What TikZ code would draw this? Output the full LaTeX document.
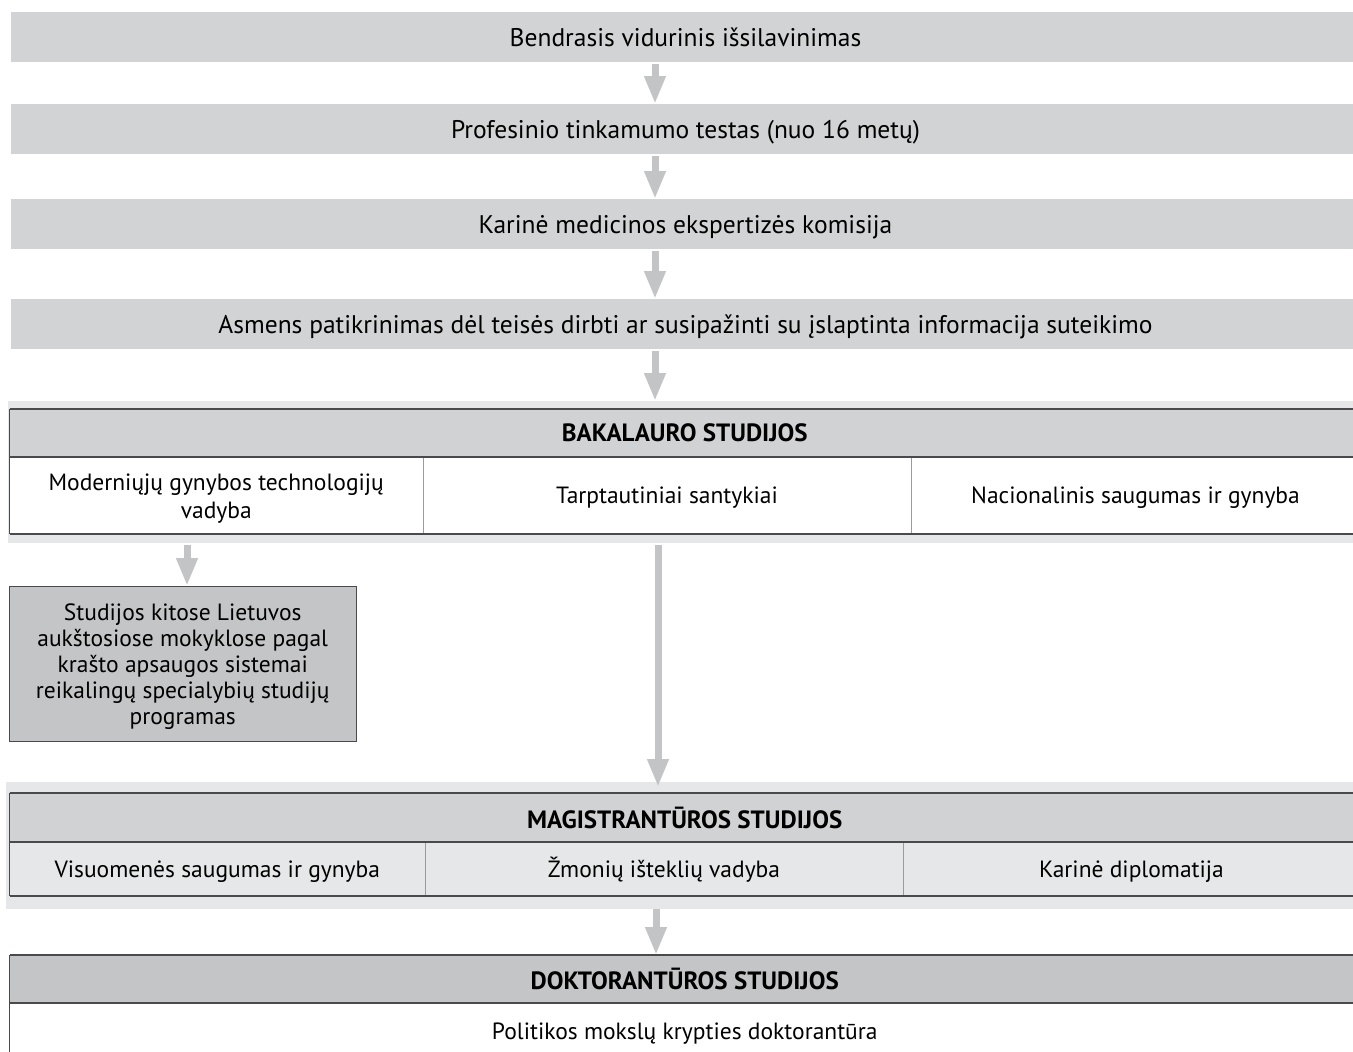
\documentclass[tikz,border=0pt]{standalone}
\usepackage{fontspec}
\setmainfont{PT Sans}
\usetikzlibrary{arrows.meta}
\definecolor{barfill}{HTML}{D1D3D4}
\definecolor{bgc}{HTML}{E6E7E8}
\definecolor{hdr}{HTML}{D1D2D4}
\definecolor{dark}{HTML}{C4C5C7}
\definecolor{arrowc}{HTML}{C3C4C6}
\definecolor{linec}{HTML}{4A4A4C}
\definecolor{divc}{HTML}{9A9B9D}
\begin{document}
\begin{tikzpicture}[x=1pt,y=-1pt,
  every node/.style={font=\fontsize{23.5}{26}\selectfont, text=black, inner sep=0pt, outer sep=0pt},
  bar/.style={fill=barfill, minimum width=1349pt, minimum height=50pt, anchor=north west,
    font=\fontsize{25.5}{28}\selectfont, text height=19pt, text depth=0pt},
  bgbox/.style={fill=bgc, anchor=north west},
  cell/.style={anchor=north west, align=center, text height=16pt, text depth=0pt},
  blank/.style={anchor=north west},
  multi/.style={align=center},
  hdrcell/.style={anchor=north west, fill=hdr, font=\fontsize{25}{28}\selectfont\bfseries},
  arr/.style={draw=arrowc, line width=7pt, -{Triangle[width=20pt,length=28pt]}},
  hline/.style={draw=linec, line width=1.3pt},
  vline/.style={draw=divc, line width=0.8pt}]
\useasboundingbox (0,0) rectangle (1353,1052);
\clip (0,0) rectangle (1353,1052);
\coordinate (ax) at (655,0);
\coordinate (lx) at (187,0);
\coordinate (mx) at (658,0);
\coordinate (dx) at (656,0);
% top bars
\node[bar] (b1) at (11,12) {Bendrasis vidurinis išsilavinimas};
\node[bar] (b2) at (11,104) {Profesinio tinkamumo testas (nuo 16 metų)};
\node[bar] (b3) at (11,199) {Karinė medicinos ekspertizės komisija};
\node[bar] (b4) at (11,299) {Asmens patikrinimas dėl teisės dirbti ar susipažinti su įslaptinta informacija suteikimo};
% bakalauro
\node[bgbox, minimum width=1352pt, minimum height=142pt] (bakbg) at (8,401) {};
\node[hdrcell, minimum width=1350.5pt, minimum height=48pt] (bakh) at (9.5,409) {BAKALAURO STUDIJOS};
\node[blank, minimum width=413.5pt, minimum height=77pt, fill=white] (bk1) at (9.5,457) {};
\node[multi] (bk1t) at ([yshift=-3pt]bk1.center) {Moderniųjų gynybos technologijų\\[2pt]vadyba};
\node[cell, minimum width=488pt, minimum height=77pt, fill=white] (bk2) at (423,457) {Tarptautiniai santykiai};
\node[cell, minimum width=449pt, minimum height=77pt, fill=white] (bk3) at (911,457) {Nacionalinis saugumas ir gynyba};
\draw[vline] (bk1.north east) -- (bk1.south east);
\draw[vline] (bk2.north east) -- (bk2.south east);
\draw[hline] (bakh.north west) -- (bakh.north east);
\draw[hline] (bakh.south west) -- (bakh.south east);
\draw[hline] (bk1.south west) -- (bk3.south east);
\draw[hline] (bakh.north west) -- (bk1.south west);
% grey box
\node[blank, fill=dark, draw=linec, line width=0.9pt, minimum width=346.5pt, minimum height=155pt] (grey) at (9.5,586) {};
\node[multi] (greyt) at ([yshift=-3pt]grey.center) {Studijos kitose Lietuvos\\aukštosiose mokyklose pagal\\krašto apsaugos sistemai\\reikalingų specialybių studijų\\programas};
% magistranturos
\node[bgbox, minimum width=1354pt, minimum height=127pt] (magbg) at (6,782) {};
\node[hdrcell, minimum width=1350.5pt, minimum height=49pt] (magh) at (9.5,793) {MAGISTRANTŪROS STUDIJOS};
\node[cell, minimum width=415.5pt, minimum height=54pt] (mg1) at (9.5,842) {Visuomenės saugumas ir gynyba};
\node[cell, minimum width=478pt, minimum height=54pt] (mg2) at (425,842) {Žmonių išteklių vadyba};
\node[cell, minimum width=457pt, minimum height=54pt] (mg3) at (903,842) {Karinė diplomatija};
\draw[vline] (mg1.north east) -- (mg1.south east);
\draw[vline] (mg2.north east) -- (mg2.south east);
\draw[hline] (magh.north west) -- (magh.north east);
\draw[hline] (magh.south west) -- (magh.south east);
\draw[hline] (mg1.south west) -- (mg3.south east);
\draw[hline] (magh.north west) -- (mg1.south west);
% doktoranturos
\node[hdrcell, fill=dark, minimum width=1350.5pt, minimum height=48pt] (dokh) at (9.5,955) {DOKTORANTŪROS STUDIJOS};
\node[cell, minimum width=1350.5pt, minimum height=56pt] (dk1) at (9.5,1003) {Politikos mokslų krypties doktorantūra};
\draw[hline] (dokh.north west) -- (dokh.north east);
\draw[hline] (dokh.south west) -- (dokh.south east);
\draw[hline] (dokh.north west) -- (dk1.south west);
% arrows
\draw[arr] ([yshift=-2pt]b1.south -| ax) -- (b2.north -| ax);
\draw[arr] ([yshift=-2pt]b2.south -| ax) -- (b3.north -| ax);
\draw[arr] ([yshift=-2pt]b3.south -| ax) -- (b4.north -| ax);
\draw[arr] ([yshift=-2pt]b4.south -| ax) -- (bakbg.north -| ax);
\draw[arr] ([yshift=-2pt]bakbg.south -| lx) -- (grey.north -| lx);
\draw[arr] ([yshift=-2pt]bakbg.south -| mx) -- ([yshift=-5pt]magbg.north -| mx);
\draw[arr] (magbg.south -| dx) -- (dokh.north -| dx);
\end{tikzpicture}
\end{document}
